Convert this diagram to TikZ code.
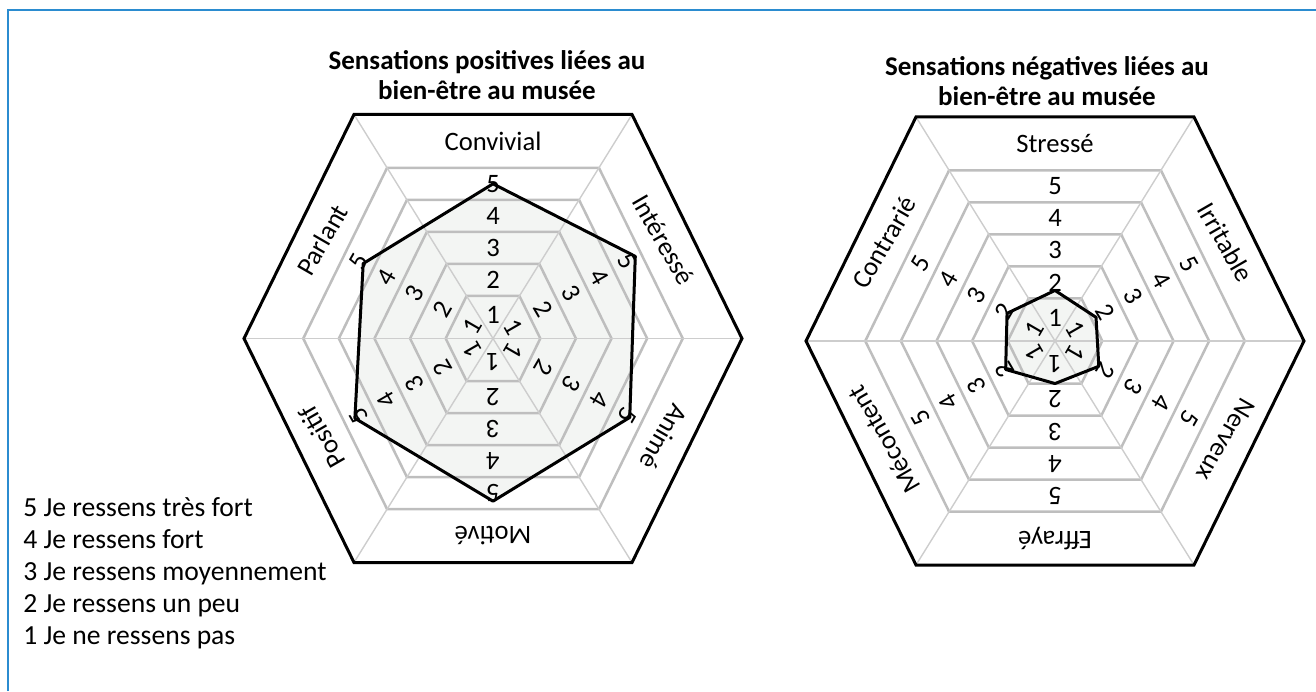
\documentclass[tikz,border=0pt]{standalone}
\usepackage{fontspec}
\setmainfont{Carlito}
\usetikzlibrary{calc}
\definecolor{B}{HTML}{2B8CD0}
\definecolor{G}{HTML}{BEBEBE}
\definecolor{S}{HTML}{CDCDCD}
\definecolor{F}{HTML}{F3F5F3}

% one hexagonal chart: #1 prefix, #2 centre, #3 scores (axes m0..m5), #4 axis names
\newcommand{\hexchart}[4]{%
  \coordinate (#1c) at (#2);
  \foreach \i/\x/\y in {0/249/0, 1/139/224, 2/-139/224, 3/-249/0, 4/-139/-224, 5/139/-224}
    \coordinate (#1v\i) at ($(#1c)+(\x,\y)$);
  \foreach \i in {0,...,5} {
    \pgfmathtruncatemacro\j{mod(\i+1,6)}
    \coordinate (#1m\i) at ($(#1v\i)!0.5!(#1v\j)$);
  }
  % scores
  \foreach \s [count=\i from 0] in {#3} {
    \pgfmathsetmacro\f{0.143*\s-0.0245}
    \coordinate (#1d\i) at ($(#1c)!\f!(#1m\i)$);
  }
  \fill[F] (#1d0) -- (#1d1) -- (#1d2) -- (#1d3) -- (#1d4) -- (#1d5) -- cycle;
  % rings and spokes
  \foreach \f in {0.19,0.333,0.476,0.619,0.762}
    \draw[ring] ($(#1c)!\f!(#1v0)$) -- ($(#1c)!\f!(#1v1)$) -- ($(#1c)!\f!(#1v2)$)
      -- ($(#1c)!\f!(#1v3)$) -- ($(#1c)!\f!(#1v4)$) -- ($(#1c)!\f!(#1v5)$) -- cycle;
  \foreach \i in {0,...,5}
    \draw[spoke] (#1c) -- (#1v\i);
  % grades
  \foreach \i in {0,...,5}
    \foreach \g/\f in {1/0.105, 2/0.2615, 3/0.4045, 4/0.5475, 5/0.6905}
      \node[grade, rotate=60*\i-60] (#1g\i\g) at ($(#1c)!\f!(#1m\i)$) {\g};
  % axis names
  \foreach \t [count=\i from 0] in {#4}
    \node[grade, rotate=60*\i-60] (#1n\i) at ($(#1c)!0.88!(#1m\i)$) {\t};
  \draw[score] (#1d0) -- (#1d1) -- (#1d2) -- (#1d3) -- (#1d4) -- (#1d5) -- cycle;
  \draw[rim] (#1v0) -- (#1v1) -- (#1v2) -- (#1v3) -- (#1v4) -- (#1v5) -- cycle;
}

\begin{document}
\begin{tikzpicture}[x=0.5pt, y=0.5pt,
    ring/.style = {draw=G, line width=1.25pt},
    spoke/.style = {draw=S, line width=0.7pt},
    rim/.style = {draw=black, line width=1.5pt, line join=miter},
    score/.style = {draw=black, line width=1.5pt, line join=round},
    grade/.style = {inner sep=0pt, font=\fontsize{13.3}{15}\selectfont},
    heading/.style = {inner sep=0pt, align=center, font=\fontsize{13.5}{15}\selectfont\bfseries},
    frame/.style = {draw=B, line width=1.1pt}]
  \useasboundingbox (0,0) rectangle (1316,691);
  \draw[frame] (8,0) -- (8,681) -- (1316,681);

  \node[heading] (posT) at (487,616) {Sensations positives liées au\\bien-être au musée};
  \node[heading] (negT) at (1047,610) {Sensations négatives liées au\\bien-être au musée};

  \hexchart{pos}{493,352.5}{5.3, 5.0, 4.85, 5.15, 5.25, 5.1}
    {Intéressé, Convivial, Parlant, Positif, Motivé, Animé}
  \hexchart{neg}{1055,350}{1.65, 1.75, 1.9, 1.95, 1.5, 1.75}
    {Irritable, Stressé, Contrarié, Mécontent, Effrayé, Nerveux}

  \node[anchor=west, align=left, inner sep=0pt, font=\fontsize{13.8}{16}\selectfont] (scale) at (23,118)
    {5 Je ressens très fort\\4 Je ressens fort\\3 Je ressens moyennement\\2 Je ressens un peu\\1 Je ne ressens pas};
\end{tikzpicture}
\end{document}
